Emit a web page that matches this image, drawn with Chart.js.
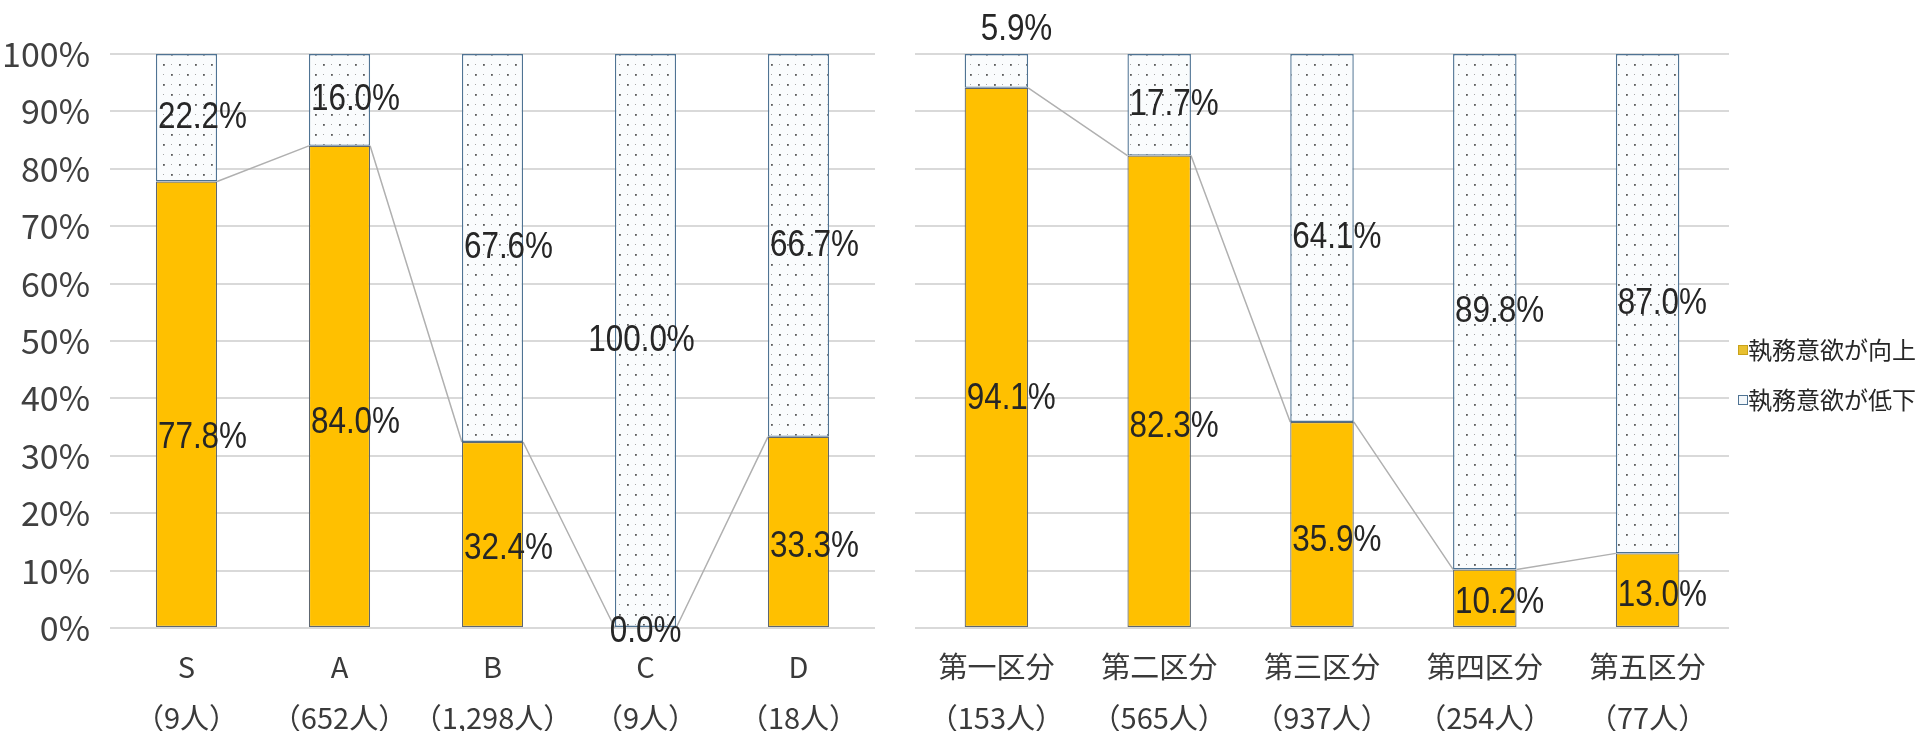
<!DOCTYPE html>
<html>
<head>
<meta charset="utf-8">
<script src="https://cdn.jsdelivr.net/npm/chart.js@4.4.1/dist/chart.umd.min.js"></script>
<style>
  body { margin: 0; background: #fff; }
  #left { position: absolute; left: 0; top: 0; }
  #right { position: absolute; left: 895px; top: 0; }
</style>
</head>
<body>
<canvas id="left" width="895" height="731"></canvas>
<canvas id="right" width="1028" height="731"></canvas>
<script>
const seriesNames = ['執務意欲が向上', '執務意欲が低下']

const rankLabels = ['S', 'A', 'B', 'C', 'D']
const rankCounts = ['（9人）', '（652人）', '（1,298人）', '（9人）', '（18人）']
const rankUp = [77.8, 84.0, 32.4, 0.0, 33.3]
const rankDown = [22.2, 16.0, 67.6, 100.0, 66.7]

const classLabels = ['第一区分', '第二区分', '第三区分', '第四区分', '第五区分']
const classCounts = ['（153人）', '（565人）', '（937人）', '（254人）', '（77人）']
const classUp = [94.1, 82.3, 35.9, 10.2, 13.0]
const classDown = [5.9, 17.7, 64.1, 89.8, 87.0]

const numFont = "'Liberation Sans', sans-serif"
const jpFont = "'Noto Sans CJK JP', sans-serif"
const orange = '#FFC000'

function dotPattern(canvas) {
  let c = document.createElement('canvas')
  c.width = 16
  c.height = 20
  let g = c.getContext('2d')
  g.fillStyle = '#fafcfd'
  g.fillRect(0, 0, 16, 20)
  g.fillStyle = '#5a5a5a'
  g.fillRect(3, 4, 1.8, 1.8)
  g.fillRect(11, 14, 1.8, 1.8)
  g.fillStyle = '#a8a8a8'
  g.fillRect(11, 4, 1, 1)
  g.fillRect(3, 14, 1, 1)
  return canvas.getContext('2d').createPattern(c, 'repeat')
}

// narrow text, like the squeezed labels in the picture
function squeezed(ctx, txt, x, y, align) {
  const w = ctx.measureText(txt).width * 0.85
  let x0 = x
  if (align == 'center') x0 = x - w / 2
  ctx.save()
  ctx.translate(x0, y)
  ctx.scale(0.85, 1)
  ctx.textAlign = 'left'
  ctx.fillText(txt, 0, 0)
  ctx.restore()
}

// series lines between the orange tops + the value labels
const barText = {
  id: 'barText',
  beforeDatasetsDraw(chart) {
    const ctx = chart.ctx
    const up = chart.getDatasetMeta(0).data
    ctx.save()
    ctx.strokeStyle = '#b0b0b0'
    ctx.lineWidth = 1.5
    ctx.beginPath()
    for (let i = 0; i < up.length - 1; i++) {
      ctx.moveTo(up[i].x + up[i].width / 2, up[i].y)
      ctx.lineTo(up[i + 1].x - up[i + 1].width / 2, up[i + 1].y)
    }
    ctx.stroke()
    ctx.restore()
  },
  afterDatasetsDraw(chart) {
    const ctx = chart.ctx
    const y = chart.scales.y
    const up = chart.getDatasetMeta(0).data
    const upVals = chart.data.datasets[0].data
    const downVals = chart.data.datasets[1].data
    ctx.save()
    ctx.font = '37px ' + numFont
    ctx.fillStyle = '#262626'
    ctx.textBaseline = 'middle'
    for (let i = 0; i < up.length; i++) {
      const bar = up[i]
      const left = bar.x - bar.width / 2
      const u = upVals[i], d = downVals[i]
      // lower segment
      let txt = u.toFixed(1) + '%'
      let ty = u == 0 ? y.getPixelForValue(0) + 4 : y.getPixelForValue(u / 2 * 0.85)
      if (u == 0 || u == 100) squeezed(ctx, txt, bar.x, ty, 'center')
      else squeezed(ctx, txt, left + 2, ty, 'left')
      // upper segment
      txt = d.toFixed(1) + '%'
      if (d < 8) squeezed(ctx, txt, left + 16, y.getPixelForValue(100) - 24, 'left')
      else if (d == 100) squeezed(ctx, txt, bar.x - 4, y.getPixelForValue(u + d / 2), 'center')
      else squeezed(ctx, txt, left + 2, y.getPixelForValue(u + d / 2), 'left')
    }
    ctx.restore()
  }
}

const sideLegend = {
  id: 'sideLegend',
  afterDraw(chart) {
    const ctx = chart.ctx
    const x0 = chart.chartArea.right + 9
    const rows = [350, 400]
    ctx.save()
    ctx.font = '24px ' + jpFont
    ctx.textBaseline = 'middle'
    ctx.textAlign = 'left'
    chart.data.datasets.forEach((ds, i) => {
      ctx.fillStyle = i == 0 ? '#E8C030' : '#f4f8fb'
      ctx.fillRect(x0, rows[i] - 5, 10, 10)
      ctx.strokeStyle = i == 0 ? '#c9a21a' : '#4f7393'
      ctx.lineWidth = 1
      ctx.strokeRect(x0 + 0.5, rows[i] - 4.5, 9, 9)
      ctx.fillStyle = '#262626'
      ctx.fillText(ds.label, x0 + 10, rows[i])
    })
    ctx.restore()
  }
}

function makeChart(id, cats, counts, up, down, opts) {
  const canvas = document.getElementById(id)
  const labels = cats.map((c, i) => [c, counts[i]])
  return new Chart(canvas, {
    type: 'bar',
    data: {
      labels: labels,
      datasets: [
        {
          label: seriesNames[0],
          data: up,
          backgroundColor: orange,
          borderColor: '#5f6770',
          borderWidth: 1.2,
          borderSkipped: false,
          categoryPercentage: 1,
          barPercentage: opts.barPct
        },
        {
          label: seriesNames[1],
          data: down,
          backgroundColor: dotPattern(canvas),
          borderColor: '#4f7393',
          borderWidth: 1.4,
          borderSkipped: false,
          categoryPercentage: 1,
          barPercentage: opts.barPct
        }
      ]
    },
    options: {
      responsive: false,
      animation: false,
      devicePixelRatio: 1,
      layout: { padding: { top: 54, left: opts.padLeft, right: opts.padRight, bottom: 0 } },
      plugins: { legend: { display: false }, tooltip: { enabled: false } },
      scales: {
        x: {
          stacked: true,
          grid: { display: false },
          border: { display: false },
          ticks: {
            color: '#3a3a3a',
            font: { family: jpFont, size: 29, lineHeight: '51px' },
            padding: 5,
            maxRotation: 0,
            autoSkip: false
          },
          afterFit: s => { s.height = 103 }
        },
        y: {
          stacked: true,
          min: 0,
          max: 100,
          grid: { color: '#d9d9d9', lineWidth: 2, drawTicks: false },
          border: { display: false },
          ticks: {
            display: opts.showY,
            stepSize: 10,
            color: '#404040',
            padding: 20,
            font: { family: jpFont, size: 34 },
            callback: v => v + '%'
          },
          afterFit: s => { s.width = opts.yWidth }
        }
      }
    },
    plugins: opts.extra
  })
}

makeChart('left', rankLabels, rankCounts, rankUp, rankDown,
  { barPct: 0.4, padLeft: 0, padRight: 20, showY: true, yWidth: 110, extra: [barText] })
makeChart('right', classLabels, classCounts, classUp, classDown,
  { barPct: 0.39, padLeft: 20, padRight: 194, showY: false, yWidth: 0, extra: [barText, sideLegend] })
</script>
</body>
</html>
